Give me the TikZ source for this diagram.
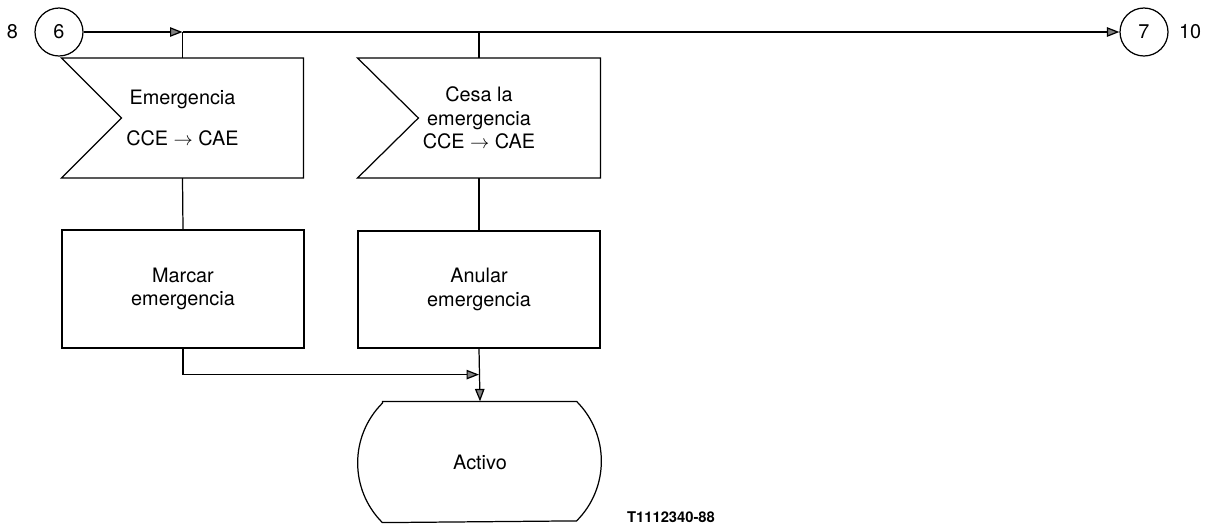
\documentclass[tikz,border=0pt]{standalone}
\usepackage{fontspec}
\setmainfont{TeX Gyre Heros}
\usepackage{tikz}
\usetikzlibrary{arrows.meta, positioning, calc}

\begin{document}
\begin{tikzpicture}[x=0.02cm, y=-0.02cm, line width=0.7pt,
    conn/.style={circle, draw, minimum size=0.96cm, inner sep=0pt, font=\fontsize{11.3}{13.5}\selectfont},
    box/.style={rectangle, minimum width=4.84cm, minimum height=2.36cm, align=center, font=\fontsize{11.3}{13.5}\selectfont},
    sig/.style={box, draw=none},
    tag/.style={font=\fontsize{11.3}{13.5}\selectfont},
    arr/.style={-{Triangle[length=2.5mm, width=1.9mm, fill=gray]}}
]
    \useasboundingbox (0,0) rectangle (1217,529);

    \node[conn] (c6) at (59,32) {6};
    \node[tag, left=0.2cm of c6] (n8) {8};
    \node[conn] (c7) at (1144,32) {7};
    \node[tag, right=0.08cm of c7] (n10) {10};

    \node[sig, minimum width=4.82cm, minimum height=2.38cm] (emerg) at (182.5,118) {Emergencia\\[10pt]CCE $\rightarrow$ CAE};
    \node[sig, minimum width=4.84cm, minimum height=2.38cm] (cesa) at (479,118) {Cesa la\\emergencia\\CCE $\rightarrow$ CAE};
    \draw (emerg.north west) -- (emerg.north east) -- (emerg.south east) -- (emerg.south west) -- ([xshift=1.2cm]emerg.west) -- cycle;
    \draw (cesa.north west) -- (cesa.north east) -- (cesa.south east) -- (cesa.south west) -- ([xshift=1.22cm]cesa.west) -- cycle;

    \node[box, draw] (marcar) at (183,289) {Marcar\\emergencia};
    \node[box, draw, minimum height=2.34cm] (anular) at (479,289.5) {Anular\\emergencia};

    \node[box, minimum height=2.4cm] (activo) at (480,462) {Activo};
    \draw ([xshift=0.48cm]activo.north west) -- ([xshift=-0.5cm]activo.north east)
        arc[start angle=45, end angle=-45, radius=1.69cm]
        -- ([xshift=0.48cm]activo.south west)
        arc[start angle=225, end angle=135, radius=1.69cm] -- cycle;

    \node[font=\bfseries\fontsize{8.4}{10}\selectfont] (ref) at (671,517) {T1112340-88};

    \coordinate (j1) at (emerg.north |- c6.east);
    \coordinate (j2) at (cesa.north |- c6.east);
    \coordinate (j3) at ([yshift=-0.52cm]anular.south);

    \draw[arr] (c6.east) -- (j1);
    \draw (emerg.north) -- (j1);
    \draw[arr] (j1) -- (c7.west);
    \draw (cesa.north) -- (j2);
    \draw (emerg.south) -- (marcar.north);
    \draw (cesa.south) -- (anular.north);
    \draw[arr] (marcar.south) |- (j3);
    \draw[arr] (anular.south) -- (activo.north);
\end{tikzpicture}
\end{document}
